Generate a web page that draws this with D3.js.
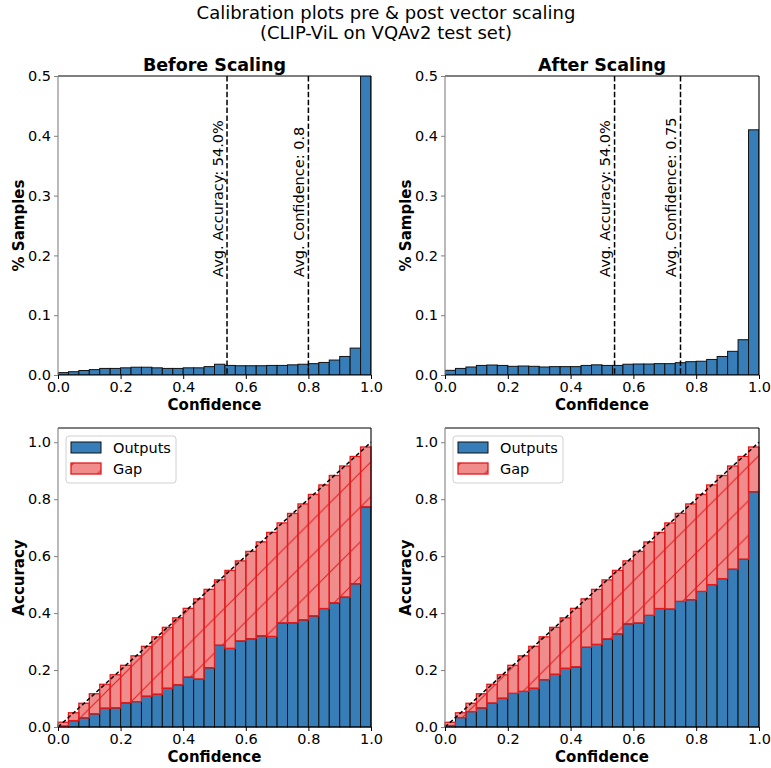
<!DOCTYPE html>
<html><head><meta charset="utf-8">
<script src="https://cdn.jsdelivr.net/npm/d3@7"></script>
<style>body{margin:0;background:#fff} svg{display:block} text{font-family:"DejaVu Sans",sans-serif;fill:#000}</style>
</head><body><svg id="c" width="771" height="768"></svg>
<script>
// ---- data ----
const nBins = 30;
const binEdges = d3.range(nBins + 1).map(i => i / nBins);
const histBefore = [0.004,0.0055,0.0075,0.009,0.011,0.011,0.012,0.013,0.013,0.012,0.011,0.011,0.012,0.012,0.014,0.018,0.016,0.0155,0.0155,0.0155,0.016,0.016,0.017,0.018,0.019,0.021,0.025,0.031,0.045,0.55];
const histAfter  = [0.0078,0.011,0.0134,0.016,0.0167,0.016,0.0145,0.015,0.0145,0.0134,0.014,0.014,0.014,0.016,0.017,0.016,0.016,0.018,0.0184,0.0184,0.019,0.019,0.0206,0.0223,0.023,0.026,0.031,0.0396,0.059,0.41];
const accBefore  = [0.003,0.022,0.032,0.046,0.066,0.067,0.085,0.089,0.108,0.115,0.136,0.148,0.175,0.168,0.208,0.287,0.276,0.302,0.31,0.32,0.318,0.365,0.366,0.376,0.39,0.416,0.436,0.456,0.503,0.773];
const accAfter   = [0.005,0.033,0.054,0.067,0.084,0.101,0.118,0.125,0.136,0.166,0.185,0.206,0.211,0.28,0.29,0.309,0.327,0.362,0.365,0.392,0.416,0.414,0.441,0.447,0.476,0.5,0.521,0.554,0.589,0.826];
const avgAccuracy = [0.54, 0.54];
const avgConfidence = [0.8, 0.75];
const panelTitles = ["Before Scaling", "After Scaling"];
const histTicks = [0, 0.1, 0.2, 0.3, 0.4, 0.5];
const accTicks = [0, 0.2, 0.4, 0.6, 0.8, 1.0];
const xTicks = [0, 0.2, 0.4, 0.6, 0.8, 1.0];
const suptitle = ["Calibration plots pre & post vector scaling", "(CLIP-ViL on VQAv2 test set)"];
const legendLabels = ["Outputs", "Gap"];

// ---- style ----
const BLUE = "#377eb8", RED = "#e41a1c";
const svg = d3.select("#c");
const defs = svg.append("defs");
const S = 34.7;
const pat = defs.append("pattern").attr("id","hatch").attr("patternUnits","userSpaceOnUse")
  .attr("width",S).attr("height",S);
pat.append("path").attr("d",`M0,${S} L${S},0 M${-S/2},${S/2} L${S/2},${-S/2} M${S/2},${S*1.5} L${S*1.5},${S/2}`)
  .attr("stroke",RED).attr("stroke-width",1).attr("fill","none");

svg.append("text").attr("x",386).attr("y",19).attr("text-anchor","middle").style("font-size","18px").text(suptitle[0]);
svg.append("text").attr("x",386).attr("y",39).attr("text-anchor","middle").style("font-size","18px").text(suptitle[1]);

const cols = [{x0:58,x1:371},{x0:445,x1:759}];
const topY = {y0:76,y1:375}, botY = {y0:428,y1:727};
const fmt = d3.format(".1f");

function axesFrame(g, x, y, ticksY, col, yr) {
  const xa = g.append("g").attr("transform",`translate(0,${yr.y1})`)
    .call(d3.axisBottom(x).tickValues(xTicks).tickFormat(fmt).tickSize(4).tickPadding(3));
  xa.select(".domain").remove();
  xa.selectAll("text").style("font-size","14.5px").style("font-family","DejaVu Sans").attr("fill","#000");
  xa.selectAll("line").attr("stroke","#000");
  const ya = g.append("g").attr("transform",`translate(${col.x0},0)`)
    .call(d3.axisLeft(y).tickValues(ticksY).tickFormat(fmt).tickSize(4).tickPadding(3));
  ya.select(".domain").remove();
  ya.selectAll("text").style("font-size","14.5px").style("font-family","DejaVu Sans").attr("fill","#000");
  ya.selectAll("line").attr("stroke","#808080");
  g.append("line").attr("x1",col.x0).attr("x2",col.x1).attr("y1",yr.y0).attr("y2",yr.y0).attr("stroke","#000").attr("stroke-width",1.1);
  g.append("line").attr("x1",col.x1).attr("x2",col.x1).attr("y1",yr.y0).attr("y2",yr.y1).attr("stroke","#000").attr("stroke-width",1.1);
  g.append("line").attr("x1",col.x0).attr("x2",col.x1).attr("y1",yr.y1).attr("y2",yr.y1).attr("stroke","#000").attr("stroke-width",1.1);
  g.append("line").attr("x1",col.x0).attr("x2",col.x0).attr("y1",yr.y0).attr("y2",yr.y1).attr("stroke","#808080").attr("stroke-width",1.1);
}

[0,1].forEach(p => {
  const col = cols[p];
  const cx = (col.x0 + col.x1) / 2;
  const hist = p === 0 ? histBefore : histAfter;
  const acc = p === 0 ? accBefore : accAfter;
  const x = d3.scaleLinear().domain([0,1]).range([col.x0, col.x1]);

  // ---------- top histogram ----------
  const yH = d3.scaleLinear().domain([0,0.5]).range([topY.y1, topY.y0]);
  const gT = svg.append("g");
  defs.append("clipPath").attr("id","clipT"+p).append("rect")
    .attr("x",col.x0).attr("y",topY.y0).attr("width",col.x1-col.x0).attr("height",topY.y1-topY.y0);
  gT.append("g").attr("clip-path",`url(#clipT${p})`).selectAll("rect").data(hist).join("rect")
    .attr("x",(d,i)=>x(binEdges[i])).attr("width",(d,i)=>x(binEdges[i+1])-x(binEdges[i]))
    .attr("y",d=>yH(d)).attr("height",d=>yH(0)-yH(d))
    .attr("fill",BLUE).attr("stroke","#111").attr("stroke-width",1);
  const lines = [[avgAccuracy[p], "Avg. Accuracy: " + (avgAccuracy[p]*100).toFixed(1) + "%"],
                 [avgConfidence[p], "Avg. Confidence: " + avgConfidence[p]]];
  lines.forEach(([v, label]) => {
    gT.append("line").attr("x1",x(v)).attr("x2",x(v)).attr("y1",topY.y0).attr("y2",topY.y1)
      .attr("stroke","#000").attr("stroke-width",1.5).attr("stroke-dasharray","5.5,2.4");
    gT.append("text").attr("transform",`translate(${x(v)-4.5},${yH(0.164)}) rotate(-90)`)
      .style("font-size","14.5px").text(label);
  });
  axesFrame(gT, x, yH, histTicks, col, topY);
  gT.append("text").attr("x",cx).attr("y",71).attr("text-anchor","middle").style("font-size","17.5px").style("font-weight","bold").text(panelTitles[p]);
  gT.append("text").attr("x",cx).attr("y",410).attr("text-anchor","middle").style("font-size","15px").style("font-weight","bold").text("Confidence");
  gT.append("text").attr("transform",`translate(${col.x0-34},${(topY.y0+topY.y1)/2}) rotate(-90)`).attr("text-anchor","middle").style("font-size","15px").style("font-weight","bold").text("% Samples");

  // ---------- bottom reliability ----------
  const yA = d3.scaleLinear().domain([0,1.05]).range([botY.y1, botY.y0]);
  const gB = svg.append("g");
  gB.append("g").selectAll("rect").data(acc).join("rect")
    .attr("x",(d,i)=>x(binEdges[i])).attr("width",(d,i)=>x(binEdges[i+1])-x(binEdges[i]))
    .attr("y",d=>yA(d)).attr("height",d=>yA(0)-yA(d))
    .attr("fill",BLUE).attr("stroke","#111").attr("stroke-width",1);
  const gap = acc.map((a,i)=>({lo:a, hi:(binEdges[i]+binEdges[i+1])/2, i}));
  const gg = gB.append("g");
  gg.selectAll("rect.f").data(gap).join("rect").attr("class","f")
    .attr("x",d=>x(binEdges[d.i])).attr("width",d=>x(binEdges[d.i+1])-x(binEdges[d.i]))
    .attr("y",d=>yA(d.hi)).attr("height",d=>yA(d.lo)-yA(d.hi))
    .attr("fill",RED).attr("fill-opacity",0.5).attr("stroke","none");
  gg.selectAll("rect.h").data(gap).join("rect").attr("class","h")
    .attr("x",d=>x(binEdges[d.i])).attr("width",d=>x(binEdges[d.i+1])-x(binEdges[d.i]))
    .attr("y",d=>yA(d.hi)).attr("height",d=>yA(d.lo)-yA(d.hi))
    .attr("fill","url(#hatch)").attr("stroke",RED).attr("stroke-width",1.3);
  gB.append("line").attr("x1",x(0)).attr("y1",yA(0)).attr("x2",x(1)).attr("y2",yA(1))
    .attr("stroke","#000").attr("stroke-width",1.5).attr("stroke-dasharray","4,2.5");
  axesFrame(gB, x, yA, accTicks, col, botY);
  gB.append("text").attr("x",cx).attr("y",762).attr("text-anchor","middle").style("font-size","15px").style("font-weight","bold").text("Confidence");
  gB.append("text").attr("transform",`translate(${col.x0-34},${(botY.y0+botY.y1)/2}) rotate(-90)`).attr("text-anchor","middle").style("font-size","15px").style("font-weight","bold").text("Accuracy");

  // legend
  const lg = gB.append("g").attr("transform",`translate(${col.x0+8},${botY.y0+8})`);
  lg.append("rect").attr("width",110).attr("height",47).attr("rx",3).attr("fill","#fff").attr("fill-opacity",0.8).attr("stroke","#d0d0d0");
  lg.append("rect").attr("x",5).attr("y",6).attr("width",30).attr("height",11).attr("fill",BLUE).attr("stroke","#111").attr("stroke-width",1);
  lg.append("rect").attr("x",5).attr("y",27).attr("width",30).attr("height",11).attr("fill",RED).attr("fill-opacity",0.5);
  lg.append("rect").attr("x",5).attr("y",27).attr("width",30).attr("height",11).attr("fill","url(#hatch)").attr("stroke",RED).attr("stroke-width",1.3);
  lg.append("text").attr("x",47).attr("y",17).style("font-size","14.5px").text(legendLabels[0]);
  lg.append("text").attr("x",47).attr("y",38).style("font-size","14.5px").text(legendLabels[1]);
});
</script></body></html>
